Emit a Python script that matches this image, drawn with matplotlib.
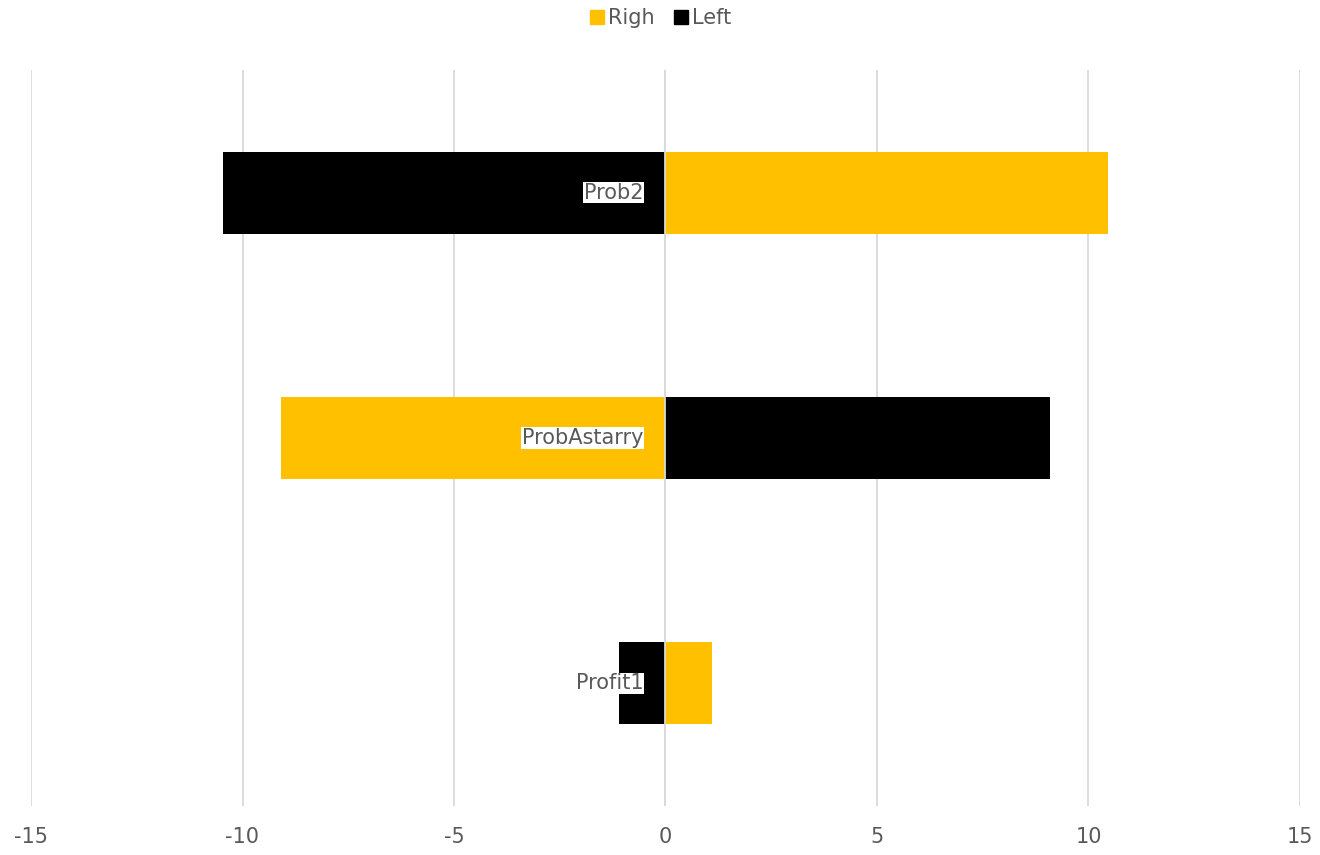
import matplotlib
matplotlib.use("Agg")
import matplotlib.pyplot as plt
from matplotlib.lines import Line2D
import matplotlib.transforms as mtrans

categories = ["Profit1", "ProbAstarry", "Prob2"]
righ = [1.11, -9.08, 10.47]
left = [-1.11, 9.08, -10.47]
xticks = [-15, -10, -5, 0, 5, 10, 15]

GOLD = "#FFC000"
BLACK = "#000000"
GRID = "#D9D9D9"
TEXT = "#595959"

plt.rcParams['font.family'] = ['DejaVu Sans']
FS = 15

fig = plt.figure(figsize=(13.2, 8.55), dpi=100)
ax = fig.add_axes([31/1320, 1 - 806/855, (1300-31)/1320, (806-70)/855])

y = list(range(len(categories)))
bw = 0.335
ax.barh(y, righ, height=bw, color=GOLD, zorder=2, label="Righ")
ax.barh(y, left, height=bw, color=BLACK, zorder=2, label="Left")

ax.set_xlim(-15, 15)
ax.set_ylim(-0.5, len(categories) - 0.5)
ax.set_xticks(xticks)
ax.set_xticklabels([str(t) for t in xticks])
ax.set_yticks([])
ax.grid(axis='x', color=GRID, linewidth=1.3, zorder=0)
ax.axvline(0, color=GRID, linewidth=1.3, zorder=3)
for s in ax.spines.values():
    s.set_visible(False)
ax.tick_params(axis='x', length=0, pad=15, labelsize=FS, labelcolor=TEXT)

offset = mtrans.ScaledTranslation(-22/100, 0, fig.dpi_scale_trans)
for yi, cat in zip(y, categories):
    ax.text(0, yi, cat, ha='right', va='center', fontsize=FS, color=TEXT,
            transform=ax.transData + offset, zorder=4,
            bbox=dict(facecolor='white', edgecolor='none', pad=0.5))

handles = [Line2D([0], [0], marker='s', linestyle='none', markersize=10,
                  markerfacecolor=GOLD, markeredgecolor=GOLD, label="Righ"),
           Line2D([0], [0], marker='s', linestyle='none', markersize=10,
                  markerfacecolor=BLACK, markeredgecolor=BLACK, label="Left")]
leg = fig.legend(handles=handles, loc='center', bbox_to_anchor=(0.5, 1 - 18/855),
                 ncol=2, frameon=False, fontsize=FS, handletextpad=0.1,
                 columnspacing=0.9, handlelength=0.8)
for t in leg.get_texts():
    t.set_color(TEXT)

fig.savefig("out.png", dpi=100)
